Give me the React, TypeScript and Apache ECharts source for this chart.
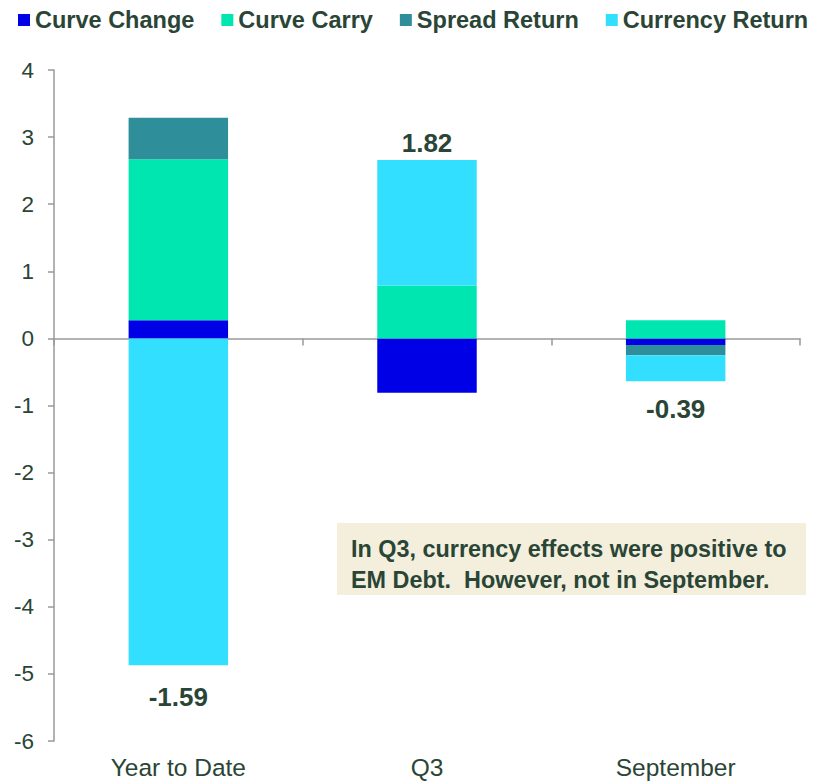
import React, { useEffect, useRef } from "react";
import * as echarts from "echarts";

const categories = ["Year to Date", "Q3", "September"];
const curveChange = [0.27, -0.81, -0.1];
const curveCarry = [2.4, 0.79, 0.27];
const spreadReturn = [0.62, 0, -0.15];
const currencyReturn = [-4.87, 1.87, -0.39];
const totals = ["-1.59", "1.82", "-0.39"];
const totalPositions = ["bottom", "top", "bottom"];
const totalDistances = [19, 4, 15];
const yTicks = { min: -6, max: 4, interval: 1 };
const noteLines = [
  "In Q3, currency effects were positive to",
  "EM Debt.  However, not in September.",
];

const TEXT = "#2A4536";
const FONT = "Liberation Sans, Arial, sans-serif";

export default function App() {
  const ref = useRef<HTMLDivElement>(null);
  useEffect(() => {
    if (!ref.current) return;
    const chart = echarts.init(ref.current, null, { renderer: "svg" });
    const colors = ["#0000E6", "#00E6B0", "#2E8F9A", "#33DFFF"];
    const names = ["Curve Change", "Curve Carry", "Spread Return", "Currency Return"];
    const datas = [curveChange, curveCarry, spreadReturn, currencyReturn];
    const series: any[] = datas.map((d, i) => ({
      name: names[i],
      type: "bar",
      stack: "total",
      barWidth: "40%",
      xAxisIndex: 0,
      itemStyle: { color: colors[i] },
      data:
        i === 3
          ? d.map((v, j) => ({
              value: v,
              label: {
                show: true,
                position: totalPositions[j],
                distance: totalDistances[j],
                formatter: () => totals[j],
                fontSize: 26,
                fontWeight: "bold",
                color: TEXT,
                fontFamily: FONT,
              },
            }))
          : d,
    }));
    chart.setOption({
      animation: false,
      textStyle: { fontFamily: FONT },
      color: colors,
      legend: {
        left: 18,
        right: 0,
        top: 8,
        padding: 0,
        itemWidth: 12,
        itemHeight: 12,
        itemGap: 27,
        icon: "rect",
        textStyle: { fontSize: 23.5, fontWeight: "bold", color: TEXT, fontFamily: FONT },
        data: names,
      },
      grid: { left: 54, right: 15, top: 70, bottom: 43, containLabel: false },
      xAxis: [
        {
          type: "category",
          data: categories,
          position: "bottom",
          axisLine: { show: false, onZero: false },
          axisTick: { show: false },
          axisLabel: { fontSize: 24.5, color: TEXT, margin: 14, fontFamily: FONT },
        },
        {
          type: "category",
          data: categories,
          position: "top",
          axisLine: { show: true, onZero: true, lineStyle: { color: "#999", width: 1.5 } },
          axisTick: { show: true, inside: true, length: 7, lineStyle: { color: "#999", width: 1.5 } },
          axisLabel: { show: false },
        },
      ],
      yAxis: {
        type: "value",
        min: yTicks.min,
        max: yTicks.max,
        interval: yTicks.interval,
        axisLine: { show: true, lineStyle: { color: "#999", width: 1.5 } },
        axisTick: { show: true, length: 6, lineStyle: { color: "#999", width: 1.5 } },
        splitLine: { show: false },
        axisLabel: { fontSize: 22.5, color: TEXT, margin: 20, fontFamily: FONT },
      },
      series,
      graphic: [
        {
          type: "group",
          left: 337,
          top: 523,
          children: [
            { type: "rect", shape: { x: 0, y: 0, width: 469, height: 72 }, style: { fill: "#F3EFDC" } },
            {
              type: "text",
              x: 14,
              y: 10,
              style: {
                text: noteLines.join("\n"),
                fontSize: 23.4,
                fontWeight: "bold",
                fill: TEXT,
                lineHeight: 31,
                fontFamily: FONT,
              },
            },
          ],
        },
      ],
    });
    return () => chart.dispose();
  }, []);
  return <div ref={ref} style={{ width: 815, height: 784, position: "absolute", left: 0, top: 0 }} />;
}
